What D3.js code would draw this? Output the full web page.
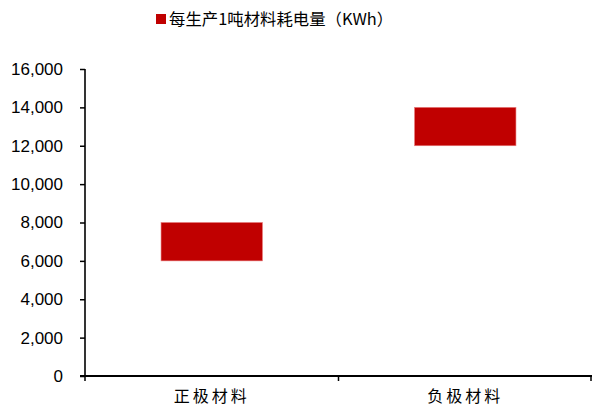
<!DOCTYPE html>
<html>
<head>
<meta charset="utf-8">
<script src="https://cdn.jsdelivr.net/npm/d3@7"></script>
<style>
  html, body { margin: 0; padding: 0; background: #fff; }
  svg { display: block; }
</style>
</head>
<body>
<svg id="chart" width="593" height="409"></svg>
<script>
// Energy use per tonne of material: each bar spans a low..high range
const categories = ["正极材料", "负极材料"];
const lowValues = [6000, 12000];
const highValues = [8000, 14000];
const yTickValues = [0, 2000, 4000, 6000, 8000, 10000, 12000, 14000, 16000];
const legendLabel = "每生产1吨材料耗电量（KWh）";

const barColor = "#C00000";
const latinFont = "'Liberation Sans', Arial, 'Noto Sans CJK SC', sans-serif";
const cjkFont = "'Noto Sans CJK SC', 'Liberation Sans', sans-serif";

const svg = d3.select("#chart");
const plot = { left: 85, right: 592, top: 69, bottom: 376 };

const x = d3.scaleBand()
  .domain(categories)
  .range([plot.left, plot.right])
  .paddingInner(0.6)
  .paddingOuter(0.3);

const y = d3.scaleLinear()
  .domain([0, 16000])
  .range([plot.bottom, plot.top]);

// Range bars
const rows = categories.map((c, i) => ({ c, lo: lowValues[i], hi: highValues[i] }));
svg.append("g")
  .selectAll("rect")
  .data(rows)
  .join("rect")
  .attr("x", d => x(d.c))
  .attr("width", x.bandwidth())
  .attr("y", d => y(d.hi))
  .attr("height", d => y(d.lo) - y(d.hi))
  .attr("fill", barColor)
  .attr("stroke", "#e87a7a")
  .attr("stroke-width", 0.6);

// Y axis
const yAxis = svg.append("g")
  .attr("transform", `translate(${plot.left},0)`)
  .call(d3.axisLeft(y)
    .tickValues(yTickValues)
    .tickFormat(d3.format(","))
    .tickSize(5)
    .tickPadding(17));
yAxis.select(".domain").attr("stroke", "#000").attr("stroke-width", 1.6).attr("d", `M0,${plot.top}V${plot.bottom}`);
yAxis.selectAll(".tick line").attr("stroke", "#000").attr("stroke-width", 1.5);
yAxis.selectAll(".tick text")
  .attr("fill", "#000")
  .style("font-family", latinFont)
  .style("font-size", "17px");

// X axis: labels centred in bands, ticks at band boundaries
const xAxis = svg.append("g")
  .attr("transform", `translate(0,${plot.bottom})`)
  .call(d3.axisBottom(x).tickSize(0).tickPadding(15));
xAxis.select(".domain").attr("stroke", "#000").attr("stroke-width", 2).attr("d", `M${plot.left - 5},0H${plot.right}`);
xAxis.selectAll(".tick text")
  .attr("fill", "#000")
  .style("font-family", cjkFont)
  .style("font-size", "16px")
  .style("letter-spacing", "3px");

const boundaries = d3.range(categories.length + 1).map(i => plot.left + i * x.step());
xAxis.selectAll("line.boundary")
  .data(boundaries)
  .join("line")
  .attr("class", "boundary")
  .attr("x1", d => Math.min(d, plot.right - 1))
  .attr("x2", d => Math.min(d, plot.right - 1))
  .attr("y1", 0)
  .attr("y2", 5)
  .attr("stroke", "#000")
  .attr("stroke-width", 1.5);

// Legend
const legend = svg.append("g").attr("transform", "translate(156,14)");
legend.append("rect")
  .attr("width", 10).attr("height", 10)
  .attr("fill", barColor);
legend.append("text")
  .attr("x", 13)
  .attr("y", 10.5)
  .attr("fill", "#000")
  .style("font-family", cjkFont)
  .style("font-size", "16.4px")
  .text(legendLabel);
</script>
</body>
</html>
